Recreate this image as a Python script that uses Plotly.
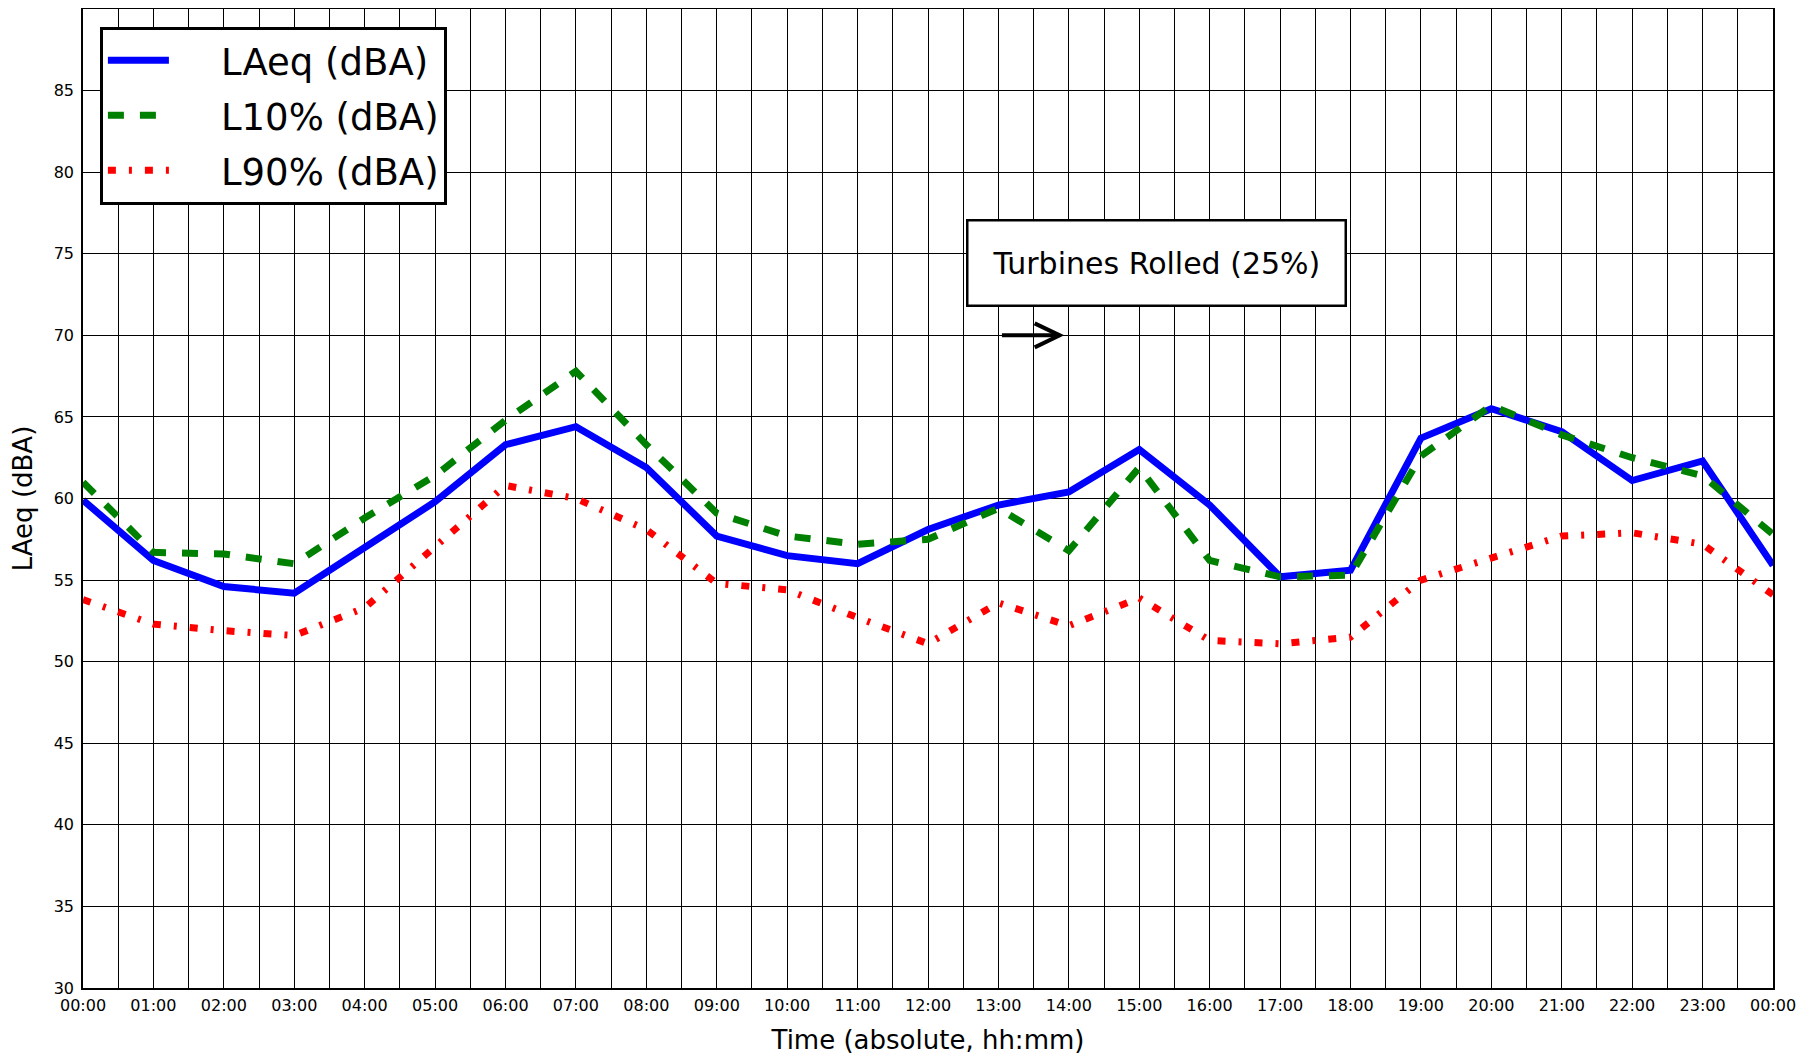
import plotly.graph_objects as go

hours = list(range(25))
tick_labels = ["00:00", "01:00", "02:00", "03:00", "04:00", "05:00", "06:00", "07:00",
               "08:00", "09:00", "10:00", "11:00", "12:00", "13:00", "14:00", "15:00",
               "16:00", "17:00", "18:00", "19:00", "20:00", "21:00", "22:00", "23:00", "00:00"]

series_names = ["LAeq (dBA)", "L10% (dBA)", "L90% (dBA)"]

laeq = [59.9, 56.2, 54.6, 54.2, 57.0, 59.8, 63.3, 64.4, 61.9, 57.7, 56.5, 56.0, 58.1,
        59.6, 60.4, 63.0, 59.6, 55.2, 55.6, 63.7, 65.5, 64.1, 61.1, 62.3, 55.9]
l10 = [61.0, 56.7, 56.6, 56.0, 58.8, 61.4, 64.8, 67.8, 63.3, 59.1, 57.7, 57.2, 57.5,
       59.4, 56.8, 61.9, 56.2, 55.2, 55.3, 62.6, 65.7, 63.9, 62.5, 61.4, 57.8]
l90 = [53.8, 52.3, 51.9, 51.6, 53.3, 57.0, 60.8, 60.0, 58.1, 54.8, 54.4, 52.7, 51.1,
       53.6, 52.2, 53.9, 51.3, 51.1, 51.5, 55.0, 56.4, 57.7, 57.9, 57.2, 54.1]

y_ticks = [30, 35, 40, 45, 50, 55, 60, 65, 70, 75, 80, 85]

annot_text = "Turbines Rolled (25%)"
annot_pos = (15.24, 74.45)
arrow_tail = (13.05, 70)
arrow_head = (13.87, 70)

FONT = "DejaVu Sans"
GAP = "\u00a0" * 4  # spacing between legend sample and label

styles = [
    dict(color="#0000ff", width=7),
    dict(color="#008000", width=7, dash="16px,16px"),
    dict(color="#ff0000", width=7, dash="8px,13px,3px,13px"),
]

fig = go.Figure()
for i, (name, vals, st) in enumerate(zip(series_names, [laeq, l10, l90], styles)):
    fig.add_trace(go.Scatter(x=hours, y=vals, mode="lines", name=GAP + name,
                             legendgroup="g%d" % i, line=st))

fig.add_annotation(x=annot_pos[0], y=annot_pos[1], xref="x", yref="y",
                   text=annot_text, showarrow=False,
                   font=dict(family=FONT, size=30, color="black"),
                   bgcolor="white", bordercolor="black", borderwidth=2.5, borderpad=24,
                   xanchor="center", yanchor="middle")

fig.add_shape(type="line", xref="x", yref="y",
              x0=arrow_tail[0], y0=arrow_tail[1], x1=arrow_head[0], y1=arrow_head[1],
              line=dict(color="black", width=4))
fig.add_shape(type="path", xref="x", yref="y",
              xsizemode="pixel", ysizemode="pixel",
              xanchor=arrow_head[0], yanchor=arrow_head[1],
              path="M-25,12 L0,0 L-25,-12",
              line=dict(color="black", width=4))

axis_common = dict(showline=True, linecolor="black", linewidth=1.5, mirror=True,
                   showgrid=True, gridcolor="black", gridwidth=1, zeroline=False,
                   ticks="inside", ticklen=6, tickcolor="black", automargin=False,
                   tickfont=dict(family=FONT, size=16, color="black"))

fig.update_xaxes(range=[0, 24], tickvals=hours, ticktext=tick_labels,
                 ticklabelstandoff=2,
                 minor=dict(dtick=0.5, tick0=0, showgrid=True, gridcolor="black", gridwidth=1),
                 title=dict(text="Time (absolute, hh:mm)", font=dict(family=FONT, size=26, color="black"),
                            standoff=17),
                 **axis_common)
fig.update_yaxes(range=[30, 90], tickvals=y_ticks,
                 ticklabelstandoff=4,
                 title=dict(text="LAeq (dBA)", font=dict(family=FONT, size=26, color="black"),
                            standoff=14),
                 **axis_common)

fig.update_layout(
    width=1803, height=1048,
    margin=dict(l=75, r=38, t=1, b=68),
    paper_bgcolor="white", plot_bgcolor="white",
    font=dict(family=FONT, color="black"),
    showlegend=True,
    legend=dict(x=0.01, y=0.982, xanchor="left", yanchor="top",
                bgcolor="white", bordercolor="black", borderwidth=3,
                font=dict(family=FONT, size=37, color="black"),
                itemwidth=61, tracegroupgap=4),
)

fig.write_html("out.html")
